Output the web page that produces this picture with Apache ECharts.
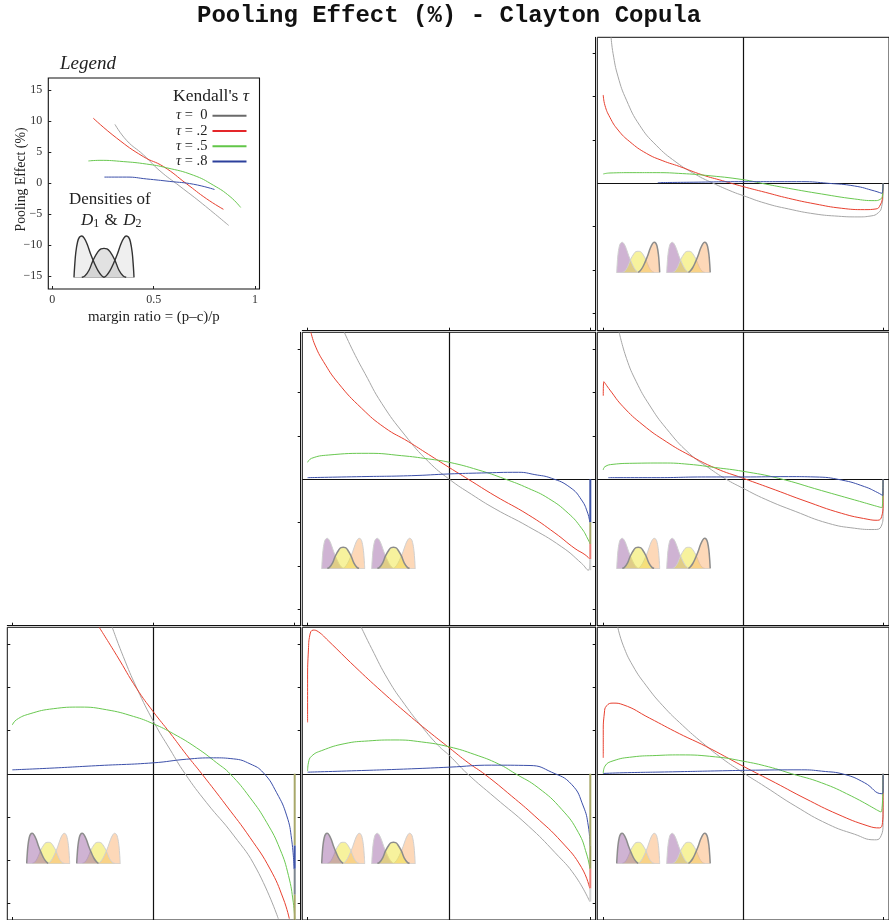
<!DOCTYPE html>
<html><head><meta charset="utf-8">
<style>html,body{margin:0;padding:0;background:#fff}#c{width:889px;height:920px}</style>
<script src="https://cdn.jsdelivr.net/npm/echarts@6/dist/echarts.min.js"></script>
</head><body><div id="c"></div>
<script>
const chartTitle = 'Pooling Effect (%) - Clayton Copula';
const tauNames = ['tau0','tau2','tau5','tau8'];
const tauLabels = ['{t|τ} =  0','{t|τ} = .2','{t|τ} = .5','{t|τ} = .8'];
const legendXTicks = [0,0.5,1];
const legendXLabels = ['0','0.5','1'];
const legendYTicks = [-15,-10,-5,0,5,10,15];
const legendYLabels = ['−15','−10','−5','0','5','10','15'];
const panelYTicks = [-15,-10,-5,5,10,15];
const panelXTicks = [0,0.5,1];

// Legend panel curves
const legGray=[[.309,9.5],[.367,6.9],[.449,4.6],[.531,2.0],[.63,-.5],[.729,-3],[.87,-6.8]];
const legRed=[[.202,10.5],[.317,7.3],[.449,4.3],[.548,2.7],[.663,-.1],[.761,-2.5],[.844,-4.2]];
const legGreen=[[.178,3.6],[.235,3.7],[.35,3.5],[.465,3.1],[.564,2.5],[.696,1.3],[.794,-.3],[.877,-2.15],[.929,-3.9]];
const legBlue=[[.257,1],[.367,1],[.465,.7],[.58,.3],[.696,-.15],[.8,-1]];

// Panel A: row 1, column 3
const aGray=[[.028,16.85],[.035,15],[.053,12.3],[.083,9.6],[.13,6.7],[.189,4.4],[.26,2.45],[.331,1.0],[.39,.05],[.461,-.96],[.5,-1.42],[.579,-2.3],[.662,-2.96],[.757,-3.54],[.84,-3.8],[.91,-3.88],[.957,-3.77],[.983,-3.4],[.995,-2.7],[1,-.8],[1,0]];
const aRed=[[0,10.2],[.006,9],[.024,7.6],[.053,6.15],[.095,4.8],[.154,3.46],[.213,2.6],[.272,1.95],[.355,.96],[.426,.3],[.5,-.38],[.579,-1.04],[.662,-1.73],[.757,-2.38],[.851,-2.88],[.934,-3.04],[.975,-2.96],[.99,-2.5],[.998,-1.54],[1,0]];
const aGreen=[[0,1.08],[.024,1.19],[.106,1.23],[.189,1.23],[.284,1.12],[.366,.92],[.5,.42],[.579,-.08],[.662,-.58],[.78,-1.23],[.898,-1.81],[.969,-2],[.99,-1.85],[.998,-1.35],[1,0]];
const aBlue=[[.195,.08],[.307,.12],[.5,.19],[.709,.19],[.804,0],[.898,-.31],[.969,-.88],[.996,-1.15],[1,0]];

// Panel B: row 2, column 2
const bGray=[[.131,16.96],[.163,14.73],[.204,12.2],[.263,8.77],[.345,5.1],[.428,2.04],[.502,0],[.581,-1.75],[.663,-3.4],[.781,-5.46],[.899,-7.8],[.969,-9.7],[.993,-10.5],[1,-9.1]];
const bRed=[[.013,16.96],[.027,15.5],[.057,13.6],[.11,11.08],[.192,8.2],[.274,5.95],[.357,4.35],[.428,2.88],[.502,1.35],[.569,0],[.663,-1.9],[.781,-4.1],[.875,-6.2],[.946,-8],[.981,-8.7],[.998,-9.2]];
const bGreen=[[.001,1.96],[.015,2.42],[.074,2.8],[.216,3],[.333,2.73],[.428,2.35],[.502,1.96],[.604,1.08],[.698,.04],[.781,-1.04],[.852,-2.2],[.922,-3.92],[.969,-5.65],[.993,-7],[.999,-7.46]];
const bBlue=[[.001,.19],[.192,.31],[.369,.42],[.502,.62],[.616,.73],[.746,.81],[.804,.54],[.863,.12],[.928,-.92],[.969,-2.38],[.991,-3.92],[.998,-4.96]];
const bEdges=[[0,-4.96,'blue'],[-4.96,-7.46,'olive'],[-7.46,-9.2,'red'],[-9.2,-10.5,'pale']];

// Panel C: row 2, column 3
const cGray=[[.057,16.96],[.083,13.96],[.118,11.27],[.165,8.58],[.225,5.88],[.307,3],[.378,1.3],[.437,.05],[.5,-1.04],[.579,-2.3],[.686,-3.7],[.804,-5.08],[.898,-5.65],[.969,-5.8],[.993,-5.46],[1,-4.1],[1,0]];
const cRed=[[0,9.65],[.002,11.27],[.024,10.3],[.071,8.38],[.142,6.27],[.225,4.35],[.307,2.8],[.402,1.27],[.5,.12],[.615,-1.23],[.721,-2.5],[.851,-3.92],[.946,-4.62],[.981,-4.73],[.995,-4.3],[1,-2.96],[1,0]];
const cGreen=[[0,1.08],[.006,1.46],[.035,1.73],[.106,1.85],[.213,1.88],[.307,1.73],[.402,1.35],[.5,.92],[.626,.12],[.78,-1.3],[.898,-2.38],[.996,-3.27],[1,0]];
const cBlue=[[.018,.19],[.189,.19],[.366,.27],[.5,.27],[.662,.31],[.757,.27],[.851,-.08],[.934,-.85],[.981,-1.54],[.999,-1.88],[1,0]];

// Panel D: row 3, column 1
const dGray=[[.354,16.96],[.393,13.58],[.441,9.92],[.503,5.88],[.558,2.85],[.612,0],[.688,-3.35],[.783,-7.1],[.865,-11.04],[.942,-16.8]];
const dRed=[[.308,16.96],[.37,13.7],[.441,9.85],[.499,7.2],[.558,4.75],[.617,2.2],[.671,0],[.759,-3.73],[.842,-7.4],[.913,-11.04],[.96,-14.5],[.981,-16.8]];
const dGreen=[[0,5.65],[.015,6.27],[.063,6.96],[.145,7.54],[.24,7.73],[.334,7.42],[.429,6.65],[.499,5.8],[.57,4.65],[.653,3],[.724,1.27],[.771,0],[.842,-2.77],[.901,-5.65],[.948,-8.73],[.978,-11.8],[.995,-14.9],[1,-16.8]];
const dBlue=[[0,.46],[.133,.65],[.31,.96],[.499,1.27],[.617,1.69],[.712,1.85],[.783,1.73],[.842,1.15],[.889,.12],[.936,-2.19],[.972,-4.88],[.989,-7.58],[.998,-11.04]];
const dEdges=[[0,-8.3,'olive'],[-8.3,-11,'blue'],[-11,-14,'slate'],[-14,-16.9,'olive']];

// Panel E: row 3, column 2
const eGray=[[.191,16.96],[.227,14.54],[.286,10.88],[.345,8],[.404,5.5],[.463,3.27],[.502,2.12],[.566,0],[.663,-2.75],[.781,-6.04],[.875,-9.12],[.946,-11.8],[.998,-14.8]];
const eRed=[[.001,5.96],[.001,10.88],[.004,14.35],[.009,16.08],[.021,16.65],[.039,16.46],[.074,15.42],[.168,12.42],[.263,9.54],[.357,6.85],[.428,4.92],[.502,3.0],[.569,1.27],[.628,-.08],[.722,-2.58],[.804,-4.9],[.899,-7.9],[.969,-10.85],[.998,-13.27]];
const eGreen=[[.001,.31],[.004,1.27],[.015,2.04],[.051,2.69],[.133,3.5],[.216,3.81],[.31,3.92],[.404,3.69],[.502,3.12],[.592,2.23],[.675,1.15],[.734,.04],[.816,-1.62],[.899,-4.12],[.958,-6.81],[.987,-9.3],[.999,-11.04]];
const eBlue=[[.001,.19],[.192,.38],[.369,.58],[.502,.77],[.651,1],[.787,.96],[.863,.19],[.934,-1.23],[.975,-3.73],[.993,-6.04],[.999,-8.35]];
const eEdges=[[0,-8.3,'olive'],[-8.3,-11,'green'],[-11,-13.3,'red'],[-13.3,-14.8,'pale']];

// Panel F: row 3, column 3
const fGray=[[.052,16.96],[.071,14.9],[.106,12.5],[.154,10.2],[.213,7.88],[.284,5.6],[.355,3.58],[.426,1.75],[.5,.12],[.579,-1.5],[.686,-3.73],[.804,-5.85],[.898,-7],[.969,-7.65],[.99,-7.38],[1,-5.65],[1,0]];
const fRed=[[0,1.85],[0,4.73],[.004,7.04],[.012,7.88],[.035,8.19],[.071,8],[.165,6.46],[.272,4.65],[.366,3.19],[.5,.88],[.615,-1.04],[.721,-2.85],[.839,-4.7],[.946,-6.04],[.987,-6.27],[.998,-5.65],[1,-4.3],[1,0]];
const fGreen=[[0,.04],[.006,.88],[.035,1.5],[.106,1.96],[.189,2.12],[.272,2.19],[.402,1.96],[.5,1.46],[.591,.81],[.674,0],[.78,-1.04],[.887,-2.58],[.993,-4.42],[1,0]];
const fBlue=[[0,.04],[.071,.12],[.248,.23],[.426,.35],[.544,.42],[.709,.46],[.78,.31],[.863,-.08],[.934,-1.04],[.996,-2.31],[1,-2],[1,0]];

// Density bumps of D1, D2 (fraction of range, relative height)
const densityLeft=[[0,0],[.01,.25],[.03,.6],[.06,.86],[.09,.97],[.128,1],[.17,.95],[.22,.8],[.28,.55],[.34,.34],[.4,.16],[.46,.04],[.5,0]];
const densityMid=[[.13,0],[.18,.03],[.25,.17],[.32,.42],[.4,.62],[.45,.69],[.5,.7],[.55,.69],[.6,.62],[.68,.42],[.75,.17],[.82,.03],[.87,0]];
const densityRight=[[.5,0],[.54,.04],[.6,.16],[.66,.34],[.72,.55],[.78,.8],[.83,.95],[.872,1],[.91,.97],[.94,.86],[.97,.6],[.99,.25],[1,0]];

const COL={tau0:'#a6a6a6',tau2:'#e8402f',tau5:'#69c850',tau8:'#3c50aa'};
const SWATCH={tau0:'#6a6a6a',tau2:'#e4262a',tau5:'#62c648',tau8:'#2c409c'};
const EDGE={blue:'#3f55a8',olive:'#a8a86a',red:'#e88078',pale:'#d2d2d2',slate:'#7d8690',green:'#9a9a58'};
const SERIF='"Liberation Serif",serif';

const panels=[
 {L:597.3,T:37.3,W:294,H:293.4,x0:603.3,xs:282,y0:183.3,top:false,leftDouble:true,curves:[aGray,aRed,aGreen,aBlue],edges:[],hi:[2,2]},
 {L:302.3,T:332.3,W:293.4,H:293.4,x0:307.3,xs:283,y0:479.3,top:true,leftDouble:true,curves:[bGray,bRed,bGreen,bBlue],edges:bEdges,hi:[1,1]},
 {L:597.3,T:332.3,W:294,H:293.4,x0:603.3,xs:282,y0:479.3,top:true,leftDouble:true,curves:[cGray,cRed,cGreen,cBlue],edges:[],hi:[1,2]},
 {L:7.3,T:627.3,W:293.4,H:293.7,x0:12.3,xs:282.4,y0:774.3,top:true,leftDouble:false,bottom:true,curves:[dGray,dRed,dGreen,dBlue],edges:dEdges,hi:[0,0]},
 {L:302.3,T:627.3,W:293.4,H:293.7,x0:307.3,xs:283,y0:774.3,top:true,leftDouble:true,bottom:true,curves:[eGray,eRed,eGreen,eBlue],edges:eEdges,hi:[0,1]},
 {L:597.3,T:627.3,W:294,H:293.7,x0:603.3,xs:282,y0:774.3,top:true,leftDouble:true,bottom:true,curves:[fGray,fRed,fGreen,fBlue],edges:[],hi:[0,2]}
];
const UNIT=8.66;
const grid=[],xAxis=[],yAxis=[],series=[];
const lineW=1;

// legend panel
grid.push({left:48.3,top:78,width:211.2,height:211,show:true,borderColor:'#111',borderWidth:1.1,backgroundColor:'transparent'});
xAxis.push({type:'value',gridIndex:0,min:-.0197,max:1.022,position:'bottom',splitLine:{show:false},
  axisLine:{show:false,onZero:false},
  axisTick:{show:true,inside:true,length:3,customValues:legendXTicks,lineStyle:{color:'#222',width:1}},
  axisLabel:{show:true,customValues:legendXTicks,formatter:v=>legendXLabels[legendXTicks.indexOf(v)],margin:5,fontFamily:SERIF,fontSize:12,color:'#333'},
  name:'margin ratio = (p–c)/p',nameLocation:'middle',nameGap:21,nameMoveOverlap:false,nameTextStyle:{fontFamily:SERIF,fontSize:14.9,color:'#222'}});
yAxis.push({type:'value',gridIndex:0,min:-17.05,max:16.98,splitLine:{show:false},
  axisLine:{show:false,onZero:false},
  axisTick:{show:true,inside:true,length:3,customValues:legendYTicks,lineStyle:{color:'#222',width:1}},
  axisLabel:{show:true,customValues:legendYTicks,formatter:v=>legendYLabels[legendYTicks.indexOf(v)],margin:6,fontFamily:SERIF,fontSize:12,color:'#333'},
  name:'Pooling Effect (%)',nameLocation:'middle',nameRotate:90,nameGap:20,nameMoveOverlap:false,nameTextStyle:{fontFamily:SERIF,fontSize:13.8,color:'#222',padding:[0,0,0,8]}});
[legGray,legRed,legGreen,legBlue].forEach((d,i)=>series.push({type:'line',name:tauNames[i],xAxisIndex:0,yAxisIndex:0,data:d,smooth:.5,showSymbol:false,symbol:'none',lineStyle:{width:lineW,color:COL[tauNames[i]]},itemStyle:{color:COL[tauNames[i]]}}));

function addDensity(x,y,w,h,mono,hi){
  const gi=grid.length, xi=xAxis.length, yi=yAxis.length;
  grid.push({left:x,top:y,width:w,height:h,show:false});
  xAxis.push({type:'value',gridIndex:gi,min:0,max:1,show:true,splitLine:{show:false},axisTick:{show:false},axisLabel:{show:false},axisLine:{show:true,onZero:false,lineStyle:{color:mono?'#bbb':'#d8d8d8',width:1}}});
  yAxis.push({type:'value',gridIndex:gi,min:0,max:1,show:false,splitLine:{show:false}});
  const fills=mono?['rgba(140,140,140,.14)','rgba(110,110,110,.2)','rgba(140,140,140,.14)']:['rgba(159,103,167,.5)','rgba(240,230,60,.5)','rgba(251,178,114,.5)'];
  [densityLeft,densityMid,densityRight].forEach((d,i)=>{
    const dark=mono||hi===i;
    series.push({type:'line',name:'density',xAxisIndex:xi,yAxisIndex:yi,data:d,smooth:.4,showSymbol:false,symbol:'none',z:dark?4:3,clip:false,
      lineStyle:{width:mono?1.4:(dark?1.5:1),color:mono?'#333':(dark?'#8c8c8c':'#d0d0d0')},
      areaStyle:{color:fills[i],opacity:1}});
  });
}
addDensity(74,236,60,41.3,true,-1);

panels.forEach(p=>{
  const gi=grid.length, xi=xAxis.length, yi=yAxis.length;
  const xmin=(p.L-p.x0)/p.xs, xmax=(p.L+p.W-p.x0)/p.xs;
  const ymax=(p.y0-p.T)/UNIT, ymin=(p.y0-p.T-p.H)/UNIT;
  grid.push({left:p.L,top:p.T,width:p.W,height:p.H,show:true,borderColor:'#111',borderWidth:1,backgroundColor:'transparent'});
  xAxis.push({type:'value',gridIndex:gi,min:xmin,max:xmax,position:'top',offset:1.6,splitLine:{show:false},
    axisLine:{show:p.top,onZero:false,lineStyle:{color:'#111',width:1}},
    axisTick:{show:p.top,length:3,customValues:panelXTicks,lineStyle:{color:'#111',width:1}},axisLabel:{show:false}});
  yAxis.push({type:'value',gridIndex:gi,min:ymin,max:ymax,position:'left',offset:p.leftDouble?1.6:0,splitLine:{show:false},
    axisLine:{show:p.leftDouble,onZero:false,lineStyle:{color:'#111',width:1}},
    axisTick:{show:true,inside:!p.leftDouble,length:3,customValues:panelYTicks,lineStyle:{color:'#111',width:1}},axisLabel:{show:false}});
  p.curves.forEach((d,i)=>{
    const s={type:'line',name:tauNames[i],xAxisIndex:xi,yAxisIndex:yi,data:d,smooth:.5,showSymbol:false,symbol:'none',lineStyle:{width:lineW,color:COL[tauNames[i]]},itemStyle:{color:COL[tauNames[i]]}};
    if(i===0) s.markLine={silent:true,symbol:'none',z:1,animation:false,label:{show:false},lineStyle:{color:'#111',width:1.2,type:'solid'},data:[{xAxis:.5},{yAxis:0}]};
    series.push(s);
  });
  p.edges.forEach(e=>series.push({type:'line',name:'edge',xAxisIndex:xi,yAxisIndex:yi,data:[[1,e[0]],[1,e[1]]],showSymbol:false,symbol:'none',z:3,lineStyle:{width:2,color:EDGE[e[2]]}}));
  if(p.bottom){
    xAxis.push({type:'value',gridIndex:gi,min:xmin,max:xmax,position:'bottom',splitLine:{show:false},axisLine:{show:false,onZero:false},
      axisTick:{show:true,inside:true,length:3,customValues:panelXTicks,lineStyle:{color:'#111',width:1}},axisLabel:{show:false}});
  }
  addDensity(p.L+19.4,p.y0+59,43,30,false,p.hi[0]);
  addDensity(p.L+69.4,p.y0+59,43.5,30,false,p.hi[1]);
});

const graphic=[
 {type:'text',left:60,top:54,style:{text:'Legend',font:'italic 19px "Liberation Serif"',fill:'#222'}},
 {type:'text',left:173,top:87,style:{text:"Kendall's {t|τ}",font:'17.5px "Liberation Serif"',fill:'#222',rich:{t:{font:'italic 17.5px "Liberation Serif"',fill:'#222'}}}},
 {type:'text',left:69,top:191,style:{text:'Densities of',font:'17px "Liberation Serif"',fill:'#222'}},
 {type:'text',left:81,top:212,style:{text:'{i|D}{s|1} {n|&} {i|D}{s|2}',fill:'#222',rich:{i:{font:'italic 17px "Liberation Serif"',fill:'#222'},n:{font:'17px "Liberation Serif"',fill:'#222',padding:[0,2,0,2]},s:{font:'12px "Liberation Serif"',fill:'#222',verticalAlign:'bottom',padding:[6,0,0,0]}}}}
];

const option={
 animation:false,backgroundColor:'#fff',
 title:{text:chartTitle,left:192,top:-1,textStyle:{fontFamily:'"Liberation Mono",monospace',fontWeight:'bold',fontSize:24,color:'#111'}},
 legend:{show:true,orient:'vertical',left:171,top:103,align:'right',selectedMode:false,itemWidth:34,itemHeight:2,itemGap:0,icon:'rect',
   data:tauNames.map(n=>({name:n,itemStyle:{color:SWATCH[n]}})),
   formatter:n=>tauLabels[tauNames.indexOf(n)],
   textStyle:{fontFamily:SERIF,fontSize:14.5,color:'#222',lineHeight:15.3,rich:{t:{fontFamily:SERIF,fontStyle:'italic',fontSize:14.5,color:'#222',lineHeight:15.3}}}},
 grid,xAxis,yAxis,series,graphic
};
const chart=echarts.init(document.getElementById('c'),null,{renderer:'canvas'});
chart.setOption(option);
</script></body></html>
